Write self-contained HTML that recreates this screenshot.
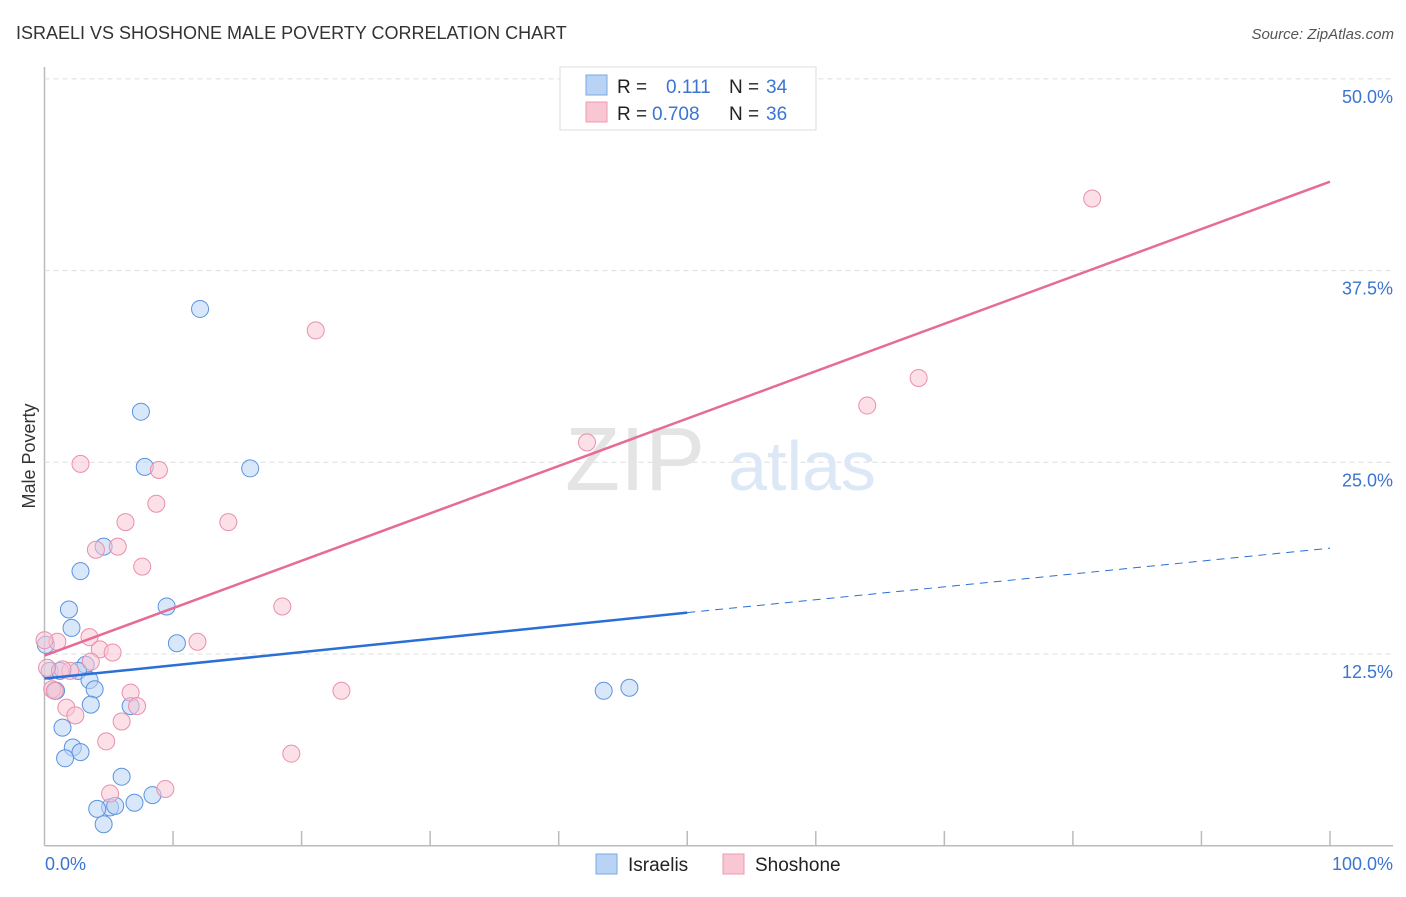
<!DOCTYPE html>
<html><head><meta charset="utf-8"><style>
body{margin:0;background:#fff;font-family:"Liberation Sans",sans-serif}
svg text{font-family:"Liberation Sans",sans-serif}
</style></head><body>
<svg width="1406" height="892" xmlns="http://www.w3.org/2000/svg">
<text x="16" y="39" font-size="18" fill="#333">ISRAELI VS SHOSHONE MALE POVERTY CORRELATION CHART</text>
<text x="1394" y="39" font-size="15" fill="#555" font-style="italic" text-anchor="end">Source: ZipAtlas.com</text>
<g id="grid"></g>
<text x="635" y="490" font-size="90" fill="#e4e4e4" font-family="Liberation Serif" text-anchor="middle">ZIP</text>
<text x="802" y="490" font-size="70" fill="#dde8f6" text-anchor="middle">atlas</text>
<g id="pts"></g>
<g id="lines"></g>
<text x="35" y="456" font-size="18" fill="#333" text-anchor="middle" transform="rotate(-90 35 456)">Male Poverty</text>
<text x="45" y="870" font-size="18" fill="#3b74d1">0.0%</text>
<text x="1393" y="870" font-size="18" fill="#3b74d1" text-anchor="end">100.0%</text>
<g>
<rect x="560" y="67" width="256" height="63" fill="#fff" stroke="#ddd"/>
<rect x="586" y="75" width="21" height="20" fill="#b9d3f5" stroke="#7aa7e3"/>
<rect x="586" y="102" width="21" height="20" fill="#f9c6d4" stroke="#eb9ab2"/>
<text x="617" y="93" font-size="19" fill="#222">R =</text><text x="666" y="93" font-size="19" fill="#3b74d1">0.111</text>
<text x="729" y="93" font-size="19" fill="#222">N =</text><text x="766" y="93" font-size="19" fill="#3b74d1">34</text>
<text x="617" y="120" font-size="19" fill="#222">R =</text><text x="652" y="120" font-size="19" fill="#3b74d1">0.708</text>
<text x="729" y="120" font-size="19" fill="#222">N =</text><text x="766" y="120" font-size="19" fill="#3b74d1">36</text>
</g>
<g>
<rect x="596" y="854" width="21" height="20" fill="#b9d3f5" stroke="#7aa7e3"/>
<text x="628" y="871" font-size="19" fill="#222">Israelis</text>
<rect x="723" y="854" width="21" height="20" fill="#f9c6d4" stroke="#eb9ab2"/>
<text x="755" y="871" font-size="19" fill="#222">Shoshone</text>
</g>
</svg>
<script>
const yTicks=[12.5,25,37.5,50];
const yTickLabels=["12.5%","25.0%","37.5%","50.0%"];
const israeliX=[12.1,7.5,7.8,16.0,4.6,2.8,1.9,2.1,9.5,10.3,3.2,0.4,1.2,2.6,3.5,3.9,0.8,0.9,3.6,6.7,1.4,2.2,2.8,1.6,6.0,8.4,7.0,5.1,5.5,4.1,4.6,43.5,45.5,0.1];
const israeliY=[35.0,28.3,24.7,24.6,19.5,17.9,15.4,14.2,15.6,13.2,11.8,11.4,11.4,11.4,10.8,10.2,10.1,10.1,9.2,9.1,7.7,6.4,6.1,5.7,4.5,3.3,2.8,2.5,2.6,2.4,1.4,10.1,10.3,13.1];
const shoshoneX=[81.5,21.1,42.2,64.0,68.0,2.8,8.9,8.7,6.3,14.3,5.7,4.0,7.6,18.5,11.9,3.5,1.0,0.0,4.3,5.3,3.6,2.0,0.6,6.7,23.1,7.2,1.7,2.4,6.0,4.8,19.2,9.4,5.1,1.4,0.2,0.8];
const shoshoneY=[42.2,33.6,26.3,28.7,30.5,24.9,24.5,22.3,21.1,21.1,19.5,19.3,18.2,15.6,13.3,13.6,13.3,13.4,12.8,12.6,12.0,11.4,10.2,9.98,10.1,9.1,9.0,8.5,8.1,6.8,6.0,3.7,3.4,11.5,11.6,10.1];
const blueLine=[[0,10.9],[50,15.2]], blueDash=[[50,15.2],[100,19.4]], pinkLine=[[0,12.4],[100,43.3]];
const NS="http://www.w3.org/2000/svg";
const X=v=>44.5+v*12.855, Y=v=>845.7-v*15.336;
function mk(t,a,p){const e=document.createElementNS(NS,t);for(const k in a)e.setAttribute(k,a[k]);document.getElementById(p).appendChild(e);return e;}
const svg=document.querySelector('svg');
let ax=mk('line',{x1:44.5,y1:67,x2:44.5,y2:845.7,stroke:'#bbb','stroke-width':1.5},'grid');


let bx=mk('line',{x1:44.5,y1:845.7,x2:1393,y2:845.7,stroke:'#bbb','stroke-width':1.5},'grid');


for(let i=1;i<=10;i++){const x=X(i*10);const t=mk('line',{x1:x,y1:831,x2:x,y2:845.7,stroke:'#bbb','stroke-width':1.5},'grid');

}
yTicks.forEach((v,i)=>{const g=mk('line',{x1:44.5,y1:Y(v),x2:1393,y2:Y(v),stroke:'#ddd','stroke-dasharray':'5,4'},'grid');


const t=mk('text',{x:1393,y:Y(v)+24,'font-size':18,fill:'#3b74d1','text-anchor':'end'},'grid');t.textContent=yTickLabels[i];

});
function pts(xs,ys,f,s,n){xs.forEach((x,i)=>{const c=mk('circle',{cx:X(x),cy:Y(ys[i]),r:8.5,fill:f,'fill-opacity':0.55,stroke:s,'stroke-width':1},'pts');

});}
pts(israeliX,israeliY,'#b9d3f5','#5b93df','israelis-point');
pts(shoshoneX,shoshoneY,'#f9c6d4','#ea8fab','shoshone-point');
function ln(p,c,w,d,n){const l=mk('line',{x1:X(p[0][0]),y1:Y(p[0][1]),x2:X(p[1][0]),y2:Y(p[1][1]),stroke:c,'stroke-width':w},'lines');if(d)l.setAttribute('stroke-dasharray',d);

}
ln(blueLine,'#2a6fd6',2.5,null,'israelis-trendline');
ln(blueDash,'#2a6fd6',1,'8,6','israelis-trendline-extension');
ln(pinkLine,'#e66b96',2.5,null,'shoshone-trendline');
</script>
</body></html>
